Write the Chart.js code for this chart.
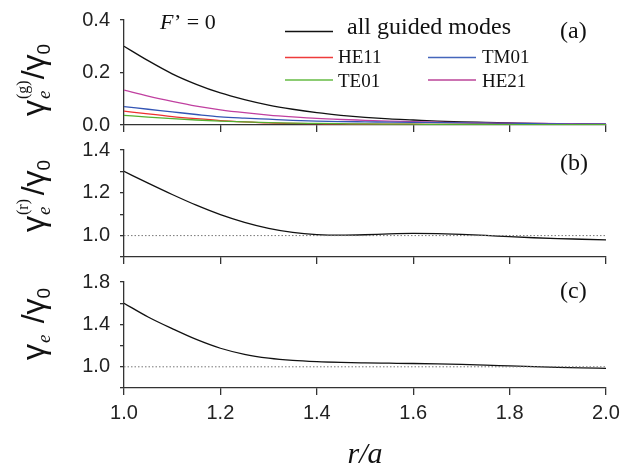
<!DOCTYPE html>
<html>
<head>
<meta charset="utf-8">
<script src="https://cdn.jsdelivr.net/npm/chart.js@4.4.1/dist/chart.umd.min.js"></script>
<style>
  body { margin: 0; background: #fff; }
  #wrap { position: relative; width: 634px; height: 470px; }
  canvas { position: absolute; left: 0; }
</style>
</head>
<body>
<div id="wrap">
  <canvas id="panelA" width="634" height="140" style="top:0"></canvas>
  <canvas id="panelB" width="634" height="130" style="top:140px"></canvas>
  <canvas id="panelC" width="634" height="200" style="top:270px"></canvas>
</div>
<script>
'use strict';

// r/a 
const rOverA = [1.00, 1.05, 1.10, 1.15, 1.20, 1.25, 1.30, 1.35, 1.40, 1.45, 1.50,
                1.55, 1.60, 1.65, 1.70, 1.75, 1.80, 1.85, 1.90, 1.95, 2.00];

// (a) guided-mode rates
const allGuided = [0.300, 0.245, 0.195, 0.155, 0.122, 0.097, 0.076, 0.060, 0.047, 0.037, 0.029,
                   0.023, 0.019, 0.015, 0.012, 0.010, 0.008, 0.006, 0.005, 0.004, 0.003];
const he11 = [0.053, 0.042, 0.032, 0.024, 0.017, 0.012, 0.008, 0.006, 0.005, 0.004, 0.0035,
              0.003, 0.003, 0.0025, 0.002, 0.002, 0.002, 0.0015, 0.0015, 0.001, 0.001];
const tm01 = [0.070, 0.060, 0.050, 0.040, 0.031, 0.026, 0.022, 0.018, 0.015, 0.013, 0.012,
              0.011, 0.010, 0.009, 0.008, 0.007, 0.006, 0.005, 0.004, 0.0035, 0.003];
const te01 = [0.037, 0.030, 0.024, 0.019, 0.015, 0.012, 0.009, 0.007, 0.006, 0.005, 0.004,
              0.0035, 0.003, 0.0025, 0.002, 0.002, 0.0015, 0.0015, 0.001, 0.001, 0.001];
const he21 = [0.133, 0.110, 0.090, 0.072, 0.058, 0.047, 0.038, 0.031, 0.025, 0.021, 0.018,
              0.015, 0.013, 0.011, 0.009, 0.008, 0.007, 0.006, 0.005, 0.0045, 0.004];

// (b) radiation rate
const gammaRad = [1.300, 1.245, 1.192, 1.142, 1.098, 1.062, 1.034, 1.015, 1.005, 1.002, 1.004,
                  1.008, 1.010, 1.009, 1.006, 1.001, 0.995, 0.990, 0.986, 0.983, 0.980];

// (c) total rate
const gammaTot = [1.600, 1.470, 1.360, 1.258, 1.175, 1.118, 1.082, 1.060, 1.048, 1.041, 1.037,
                  1.034, 1.031, 1.027, 1.022, 1.016, 1.008, 1.001, 0.995, 0.990, 0.986];

// dotted reference level
const refX = [1.0, 2.0];
const refY = [1.0, 1.0];

const SANS = '"Liberation Sans", Arial, sans-serif';
const SERIF = '"Liberation Serif", "Times New Roman", serif';
Chart.defaults.font.family = SANS;

function pts(ys, xs) {
    xs = xs || rOverA;
    return xs.map((x, i) => ({ x: x, y: ys[i] }));
}

function curve(ys, color) {
    return {
        data: pts(ys),
        borderColor: color,
        borderWidth: 1.3,
        pointRadius: 0,
        fill: false,
        cubicInterpolationMode: 'monotone'
    };
}

function refLine() {
    return {
        data: pts(refY, refX),
        borderColor: '#777',
        borderWidth: 1,
        borderDash: [1.5, 2],
        pointRadius: 0,
        fill: false
    };
}

// y title: gamma_e^(sup) / gamma_0, rotated
function drawGammaTitle(ctx, x, yBottom, sup) {
    ctx.save();
    ctx.translate(x, yBottom);
    ctx.rotate(-Math.PI / 2);
    ctx.fillStyle = '#111';
    ctx.textBaseline = 'alphabetic';
    ctx.textAlign = 'left';
    let p = 0;
    ctx.font = '32px ' + SANS;
    ctx.fillText('γ', p, 0);
    p += ctx.measureText('γ').width;
    ctx.font = 'italic 19px ' + SERIF;
    ctx.fillText('e', p + 1, 6);
    let w = ctx.measureText('e').width;
    ctx.font = '16px ' + SERIF;
    const supW = ctx.measureText('(g)').width;
    if (sup) ctx.fillText(sup, p + 1, -16);
    w = Math.max(w, supW);
    p += w + 2;
    ctx.font = '32px ' + SANS;
    ctx.fillText('/γ', p, 0);
    p += ctx.measureText('/γ').width;
    ctx.font = '19px ' + SANS;
    ctx.fillText('0', p, 6);
    ctx.restore();
}

function drawText(ctx, txt, x, y, font, align) {
    ctx.font = font;
    ctx.textAlign = align || 'left';
    ctx.textBaseline = 'alphabetic';
    ctx.fillStyle = '#111';
    ctx.fillText(txt, x, y);
}

function legendLine(ctx, x0, x1, y, color) {
    ctx.strokeStyle = color;
    ctx.lineWidth = 1.3;
    ctx.beginPath();
    ctx.moveTo(x0, y);
    ctx.lineTo(x1, y);
    ctx.stroke();
}

const annotA = {
    id: 'annotA',
    afterDraw(chart) {
        const ctx = chart.ctx;
        ctx.save();
        drawGammaTitle(ctx, 44, 116, '(g)');
        // F' = 0
        drawText(ctx, 'F', 160, 29, 'italic 22px ' + SERIF);
        drawText(ctx, '’ = 0', 174, 29, '22px ' + SERIF);
        drawText(ctx, '(a)', 560, 38, '24px ' + SERIF);
        // legend
        legendLine(ctx, 285, 333, 31.5, '#111');
        drawText(ctx, 'all guided modes', 347, 34, '24px ' + SERIF);
        legendLine(ctx, 285, 333, 57.5, '#ee3b3b');
        drawText(ctx, 'HE11', 338, 63, '19px ' + SERIF);
        legendLine(ctx, 428, 476, 57.5, '#4466bb');
        drawText(ctx, 'TM01', 482, 63, '19px ' + SERIF);
        legendLine(ctx, 285, 333, 80, '#66bb44');
        drawText(ctx, 'TE01', 338, 87, '19px ' + SERIF);
        legendLine(ctx, 428, 476, 80, '#bb4499');
        drawText(ctx, 'HE21', 482, 87, '19px ' + SERIF);
        ctx.restore();
    }
};

const annotB = {
    id: 'annotB',
    afterDraw(chart) {
        const ctx = chart.ctx;
        ctx.save();
        drawGammaTitle(ctx, 44, 92, '(r)');
        drawText(ctx, '(b)', 560, 30, '24px ' + SERIF);
        ctx.restore();
    }
};

const annotC = {
    id: 'annotC',
    afterDraw(chart) {
        const ctx = chart.ctx;
        ctx.save();
        drawGammaTitle(ctx, 44, 90, '');
        drawText(ctx, '(c)', 560, 28, '24px ' + SERIF);
        ctx.restore();
    }
};

function panelOptions(p) {
    return {
        responsive: false,
        animation: false,
        layout: { padding: { top: p.padTop, right: 28, left: 0, bottom: 0 } },
        plugins: { legend: { display: false }, tooltip: { enabled: false } },
        scales: {
            x: {
                type: 'linear',
                min: 1,
                max: 2,
                border: { color: '#333', width: 1.3 },
                grid: { drawOnChartArea: false, drawTicks: true, tickLength: 7, color: '#333', lineWidth: 1.3 },
                ticks: {
                    display: p.xLabels,
                    stepSize: 0.2,
                    padding: 6,
                    color: '#222',
                    font: { size: 20 },
                    maxRotation: 0,
                    autoSkip: false,
                    callback: v => v.toFixed(1)
                },
                title: p.xLabels ? {
                    display: true,
                    text: 'r/a',
                    color: '#111',
                    font: { family: SERIF, size: 30, style: 'italic', lineHeight: 1 },
                    padding: { top: 0, bottom: 0 }
                } : { display: false },
                afterFit: s => { s.height = p.xHeight; }
            },
            y: {
                min: p.yMin,
                max: p.yMax,
                border: { color: '#333', width: 1.3 },
                grid: { drawOnChartArea: false, drawTicks: true, tickLength: 4, color: '#333', lineWidth: 1.3 },
                ticks: {
                    stepSize: p.yStep,
                    autoSkip: false,
                    padding: 10,
                    color: '#222',
                    font: { size: 20 },
                    callback: p.yTick
                },
                afterFit: s => {
                    s.width = 124;
                    s.paddingTop = 0;
                    s.paddingBottom = 0;
                }
            }
        }
    };
}

new Chart(document.getElementById('panelA'), {
    type: 'line',
    data: {
        datasets: [
            curve(te01, '#55b030'),
            curve(he11, '#ee3030'),
            curve(tm01, '#3355b5'),
            curve(he21, '#c040a0'),
            curve(allGuided, '#111')
        ]
    },
    options: panelOptions({
        padTop: 20, xHeight: 15, xLabels: false,
        yMin: 0, yMax: 0.4, yStep: 0.2,
        yTick: v => v.toFixed(1)
    }),
    plugins: [annotA]
});

new Chart(document.getElementById('panelB'), {
    type: 'line',
    data: { datasets: [refLine(), curve(gammaRad, '#111')] },
    options: panelOptions({
        padTop: 10, xHeight: 13, xLabels: false,
        yMin: 0.9, yMax: 1.4, yStep: 0.1,
        yTick: v => (Math.round(v * 10) % 2 === 0 ? v.toFixed(1) : '')
    }),
    plugins: [annotB]
});

new Chart(document.getElementById('panelC'), {
    type: 'line',
    data: { datasets: [refLine(), curve(gammaTot, '#111')] },
    options: panelOptions({
        padTop: 12, xHeight: 82, xLabels: true,
        yMin: 0.8, yMax: 1.8, yStep: 0.2,
        yTick: v => (Math.round(v * 10) % 4 === 2 ? v.toFixed(1) : '')
    }),
    plugins: [annotC]
});
</script>
</body>
</html>
